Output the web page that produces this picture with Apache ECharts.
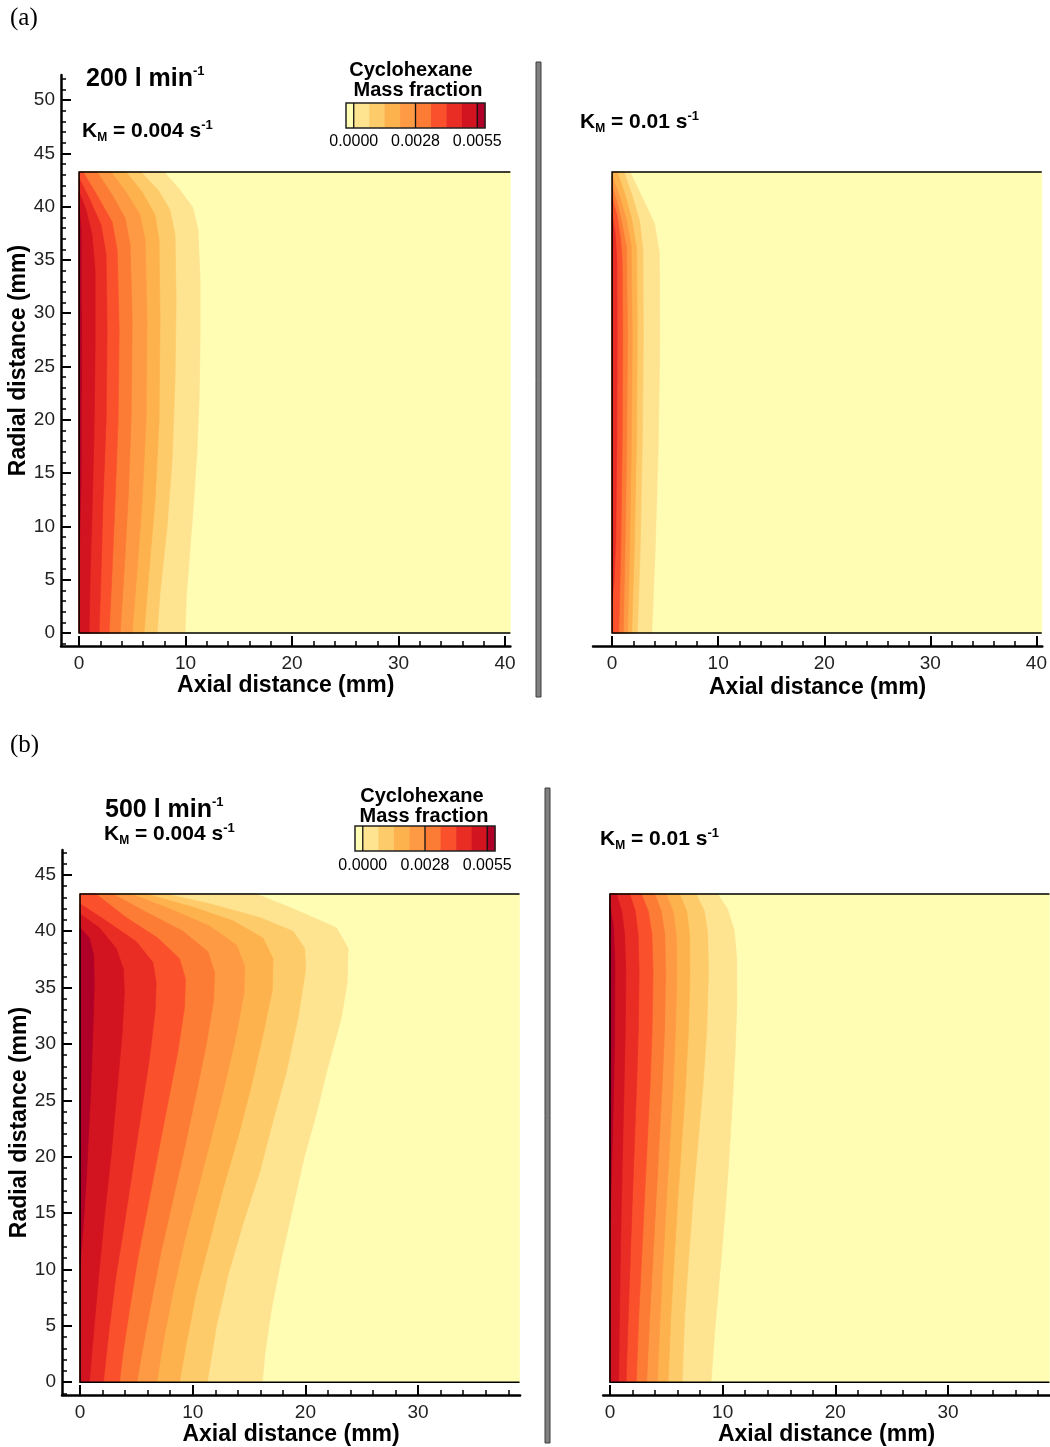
<!DOCTYPE html>
<html>
<head>
<meta charset="utf-8">
<script src="https://cdn.jsdelivr.net/npm/echarts@6/dist/echarts.min.js"></script>
<style>
  html, body { margin: 0; padding: 0; background: #fff; }
  #chart { width: 1050px; height: 1447px; }
</style>
</head>
<body>
<div id="chart"></div>
<script>
// Contour band colours, from the lowest mass-fraction band (0) to the highest (9)
const bandColors = ['#fffdb4', '#fee391', '#fecb6a', '#feb24e', '#fd9a43',
                    '#fc7b35', '#fa512c', '#e92d25', '#d1141f', '#b00027'];
const colorbarLabels = ['0.0000', '0.0028', '0.0055'];

// Axis ticks (mm)
const axialTicks = [0, 10, 20, 30, 40];
const axialMinorTicks = [0, 2, 4, 6, 8, 10, 12, 14, 16, 18, 20, 22, 24, 26, 28, 30, 32, 34, 36, 38, 40];
const radialTicksA = [0, 5, 10, 15, 20, 25, 30, 35, 40, 45, 50];
const radialMinorTicksA = [-1, 0, 1, 2, 3, 4, 5, 6, 7, 8, 9, 10, 11, 12, 13, 14, 15, 16, 17, 18, 19, 20, 21, 22, 23, 24, 25,
  26, 27, 28, 29, 30, 31, 32, 33, 34, 35, 36, 37, 38, 39, 40, 41, 42, 43, 44, 45, 46, 47, 48, 49, 50, 51, 52];
const radialTicksB = [0, 5, 10, 15, 20, 25, 30, 35, 40, 45];
const radialMinorTicksB = [-1, 0, 1, 2, 3, 4, 5, 6, 7, 8, 9, 10, 11, 12, 13, 14, 15, 16, 17, 18, 19, 20, 21, 22, 23, 24, 25,
  26, 27, 28, 29, 30, 31, 32, 33, 34, 35, 36, 37, 38, 39, 40, 41, 42, 43, 44, 45, 46, 47];

// Computational domain extent [axial, radial] in mm
const domainA = [40.5, 43.25];
const domainB = [39.0, 43.3];

// Iso-lines of cyclohexane mass fraction, [axial mm, radial mm].
// Entry i bounds band i+1 (higher values lie on the wall side, axial = 0).

// 200 l/min, K_M = 0.004 1/s
const iso200_k004 = [
  [[7.98,43.25],[9.48,41.56],[10.7,39.87],[11.17,37.8],[11.36,33.1],[11.36,27.5],[11.27,21.86],[11.08,17.17],[10.7,11.54],[10.33,6.85],[10.05,3.1],[9.95,0]],
  [[5.82,43.25],[7.42,41.56],[8.54,39.68],[9.01,37.34],[9.11,31.24],[9.01,23.73],[8.73,16.23],[8.26,9.94],[7.6,3.75],[7.32,0]],
  [[4.41,43.25],[5.92,41.37],[7.14,39.21],[7.51,36.87],[7.6,29.36],[7.51,19.98],[7.14,12.48],[6.57,5.91],[6.1,0]],
  [[3.0,43.25],[4.41,41.37],[5.73,39.21],[6.2,36.87],[6.38,29.36],[6.29,19.98],[5.92,12.48],[5.45,5.91],[4.98,0]],
  [[1.69,43.25],[3.1,41.09],[4.32,38.93],[4.79,36.4],[4.98,29.36],[4.88,19.98],[4.6,12.48],[4.23,5.91],[3.85,0]],
  [[0.38,43.25],[1.78,40.9],[3.1,38.56],[3.57,35.93],[3.76,28.42],[3.66,19.98],[3.38,12.48],[3.1,5.91],[2.82,0]],
  [[0,42.68],[1.03,40.62],[2.07,38.27],[2.54,35.46],[2.63,28.42],[2.54,19.98],[2.25,12.48],[2.07,5.91],[1.88,0]],
  [[0,41.37],[0.66,39.68],[1.22,37.34],[1.5,34.05],[1.5,26.55],[1.41,19.04],[1.22,11.54],[1.03,4.97],[0.94,0]],
  [[0,39.96],[0.19,37.8],[0.23,26.55],[0.19,14.35],[0,6.85]]
];

// 200 l/min, K_M = 0.01 1/s
const iso200_k010 = [
  [[1.69,43.25],[2.9,40.75],[4.0,38.4],[4.45,35.7],[4.5,27.4],[4.35,17.5],[4.05,7.5],[3.74,0]],
  [[1.13,43.25],[1.9,41.0],[2.6,38.6],[2.9,36.0],[2.95,28],[2.85,18],[2.65,8],[2.38,0]],
  [[0.5,43.25],[1.2,41.2],[1.85,38.8],[2.3,36.2],[2.38,28],[2.3,18],[2.1,8],[1.85,0]],
  [[0,42.85],[0.7,41.0],[1.35,38.8],[1.8,36.3],[1.9,28],[1.82,18],[1.65,8],[1.45,0]],
  [[0,41.9],[0.5,40.3],[0.95,38.3],[1.35,36.2],[1.45,28],[1.38,18],[1.22,8],[1.05,0]],
  [[0,40.9],[0.45,39.2],[0.8,37.0],[0.95,35],[1.0,28],[0.95,18],[0.82,8],[0.62,0]],
  [[0,39.2],[0.3,37.5],[0.45,35],[0.48,28],[0.45,18],[0.35,9],[0.2,5],[0,3]]
];

// 500 l/min, K_M = 0.004 1/s
const iso500_k004 = [
  [[15.64,43.3],[18.9,42.0],[22.76,40.3],[23.79,38.48],[23.7,35.42],[23.2,32.37],[21.87,27.48],[20.98,23.82],[19.94,20.15],[18.9,15.57],[17.87,10.99],[16.98,6.41],[16.39,2.44],[16.18,0]],
  [[7.64,43.3],[11.5,42.44],[15.94,41.22],[18.9,40.0],[19.94,38.48],[20.03,36.64],[19.35,32.37],[18.31,27.48],[17.13,23.21],[15.94,18.63],[14.46,14.05],[13.13,9.47],[12.09,4.89],[11.29,0]],
  [[5.87,43.3],[10.01,42.14],[13.57,40.92],[16.24,39.39],[17.13,37.56],[17.07,34.81],[16.24,30.84],[15.2,26.26],[14.01,21.68],[12.68,17.1],[11.5,12.52],[10.31,7.94],[9.42,3.36],[8.83,0]],
  [[4.53,43.3],[7.94,42.0],[11.5,40.46],[13.87,38.78],[14.61,36.95],[14.55,34.5],[13.87,30.84],[12.83,26.26],[11.64,21.68],[10.46,17.1],[9.27,12.52],[8.24,7.94],[7.35,3.36],[6.81,0]],
  [[2.9,43.3],[5.87,41.68],[9.13,40.0],[11.35,38.17],[11.94,36.34],[11.85,33.9],[11.2,29.93],[10.31,25.65],[9.27,20.76],[8.24,16.18],[7.2,11.6],[6.31,7.02],[5.51,2.75],[5.04,0]],
  [[1.42,43.3],[4.09,41.22],[6.9,39.39],[8.83,37.56],[9.36,35.73],[9.27,33.28],[8.68,29.31],[7.79,24.73],[6.9,20.15],[6.01,15.57],[5.13,10.99],[4.39,6.41],[3.79,2.44],[3.5,0]],
  [[0,42.44],[2.31,40.92],[4.98,39.09],[6.46,37.25],[6.76,35.42],[6.67,32.98],[6.16,28.7],[5.42,23.82],[4.68,18.93],[3.94,14.05],[3.2,9.47],[2.61,4.89],[2.07,0]],
  [[0,41.53],[1.72,40.31],[3.2,38.48],[3.85,36.64],[3.94,34.5],[3.73,30.84],[3.26,25.65],[2.76,20.15],[2.16,14.66],[1.66,9.47],[1.19,4.28],[0.83,0]],
  [[0,40.31],[0.83,39.39],[1.21,37.87],[1.27,35.42],[1.13,30.84],[0.89,24.73],[0.59,18.63],[0.3,14.05],[0,10.38]]
];

// 500 l/min, K_M = 0.01 1/s
const iso500_k010 = [
  [[9.56,43.3],[10.44,41.94],[11.03,40.07],[11.24,37.7],[11.26,33.62],[11.09,28.87],[10.82,24.11],[10.53,19.36],[10.15,14.26],[9.71,9.17],[9.26,4.08],[8.97,0]],
  [[7.65,43.3],[8.38,41.77],[8.68,39.73],[8.74,36.34],[8.59,31.24],[8.24,26.15],[7.79,21.05],[7.35,15.96],[6.97,10.87],[6.62,5.77],[6.41,0]],
  [[6.18,43.3],[6.82,41.77],[7.06,39.73],[7.1,36.34],[6.97,31.24],[6.7,26.15],[6.35,21.05],[6.0,15.96],[5.7,10.87],[5.4,5.77],[5.16,0]],
  [[5.0,43.3],[5.6,41.77],[5.88,39.73],[5.94,36.34],[5.82,31.24],[5.6,26.15],[5.3,21.05],[5.0,15.96],[4.72,10.87],[4.45,5.77],[4.2,0]],
  [[3.97,43.3],[4.55,41.77],[4.86,39.73],[4.94,36.34],[4.84,31.24],[4.62,26.15],[4.35,21.05],[4.08,15.96],[3.8,10.87],[3.52,5.77],[3.25,0]],
  [[2.79,43.3],[3.4,41.77],[3.72,39.73],[3.82,36.34],[3.74,31.24],[3.55,26.15],[3.3,21.05],[3.05,15.96],[2.8,10.87],[2.55,5.77],[2.33,0]],
  [[1.76,43.3],[2.25,41.77],[2.5,39.73],[2.59,36.34],[2.52,31.24],[2.36,26.15],[2.17,21.05],[1.98,15.96],[1.8,10.87],[1.62,5.77],[1.43,0]],
  [[0.59,43.3],[1.05,41.77],[1.3,39.73],[1.41,36.34],[1.36,31.24],[1.25,26.15],[1.13,21.05],[1.02,15.96],[0.92,10.87],[0.84,5.77],[0.77,0]],
  [[0,42.3],[0.3,40.5],[0.44,37],[0.4,30],[0.28,24],[0.12,18],[0,14.3]]
];

const FONT = '"Liberation Sans", Arial, Helvetica, sans-serif';
const SERIF = '"Liberation Serif", "Times New Roman", serif';

// ---------- axes ----------
function xMajor(grid, min, max, nameGap) {
  return {
    type: 'value', gridIndex: grid, min: min, max: max, position: 'bottom',
    axisLine: { show: true, onZero: false, lineStyle: { color: '#000', width: 2.5 } },
    axisTick: { show: true, inside: true, length: 10, customValues: axialTicks,
                lineStyle: { color: '#000', width: 2 } },
    axisLabel: { show: true, customValues: axialTicks, margin: 8, fontSize: 19,
                 color: '#222', fontFamily: FONT },
    splitLine: { show: false },
    name: 'Axial distance (mm)', nameLocation: 'middle', nameGap: nameGap,
    nameTextStyle: { fontSize: 23, fontWeight: 'bold', color: '#000', fontFamily: FONT }
  };
}
function xMinor(grid, min, max) {
  return {
    type: 'value', gridIndex: grid, min: min, max: max, position: 'bottom',
    axisLine: { show: false, onZero: false },
    axisTick: { show: true, inside: true, length: 5, customValues: axialMinorTicks,
                lineStyle: { color: '#000', width: 1.5 } },
    axisLabel: { show: false }, splitLine: { show: false }
  };
}
function yMajor(grid, min, max, ticks) {
  return {
    type: 'value', gridIndex: grid, min: min, max: max, position: 'left',
    axisLine: { show: true, onZero: false, lineStyle: { color: '#000', width: 2.5 } },
    axisTick: { show: true, inside: true, length: 10, customValues: ticks,
                lineStyle: { color: '#000', width: 2 } },
    axisLabel: { show: true, customValues: ticks, margin: 6, fontSize: 19,
                 color: '#222', fontFamily: FONT },
    splitLine: { show: false },
    name: 'Radial distance (mm)', nameLocation: 'middle', nameGap: 29,
    nameTextStyle: { fontSize: 23, fontWeight: 'bold', color: '#000', fontFamily: FONT }
  };
}
function yMinor(grid, min, max, ticks) {
  return {
    type: 'value', gridIndex: grid, min: min, max: max, position: 'left',
    axisLine: { show: false, onZero: false },
    axisTick: { show: true, inside: true, length: 5, customValues: ticks,
                lineStyle: { color: '#000', width: 1.5 } },
    axisLabel: { show: false }, splitLine: { show: false }
  };
}
function yHidden(grid, min, max) {
  return { type: 'value', gridIndex: grid, min: min, max: max, show: false,
           axisLine: { onZero: false }, splitLine: { show: false } };
}

// ---------- filled contour series ----------
function contourSeries(xIdx, yIdx, lines, domain) {
  const items = [];
  for (let k = 0; k <= lines.length; k++) items.push([k]);
  items.push([-1]); // domain frame
  return {
    type: 'custom', xAxisIndex: xIdx, yAxisIndex: yIdx, silent: true, animation: false,
    data: items,
    renderItem: function (params, api) {
      const k = api.value(0);
      const xm = domain[0], ym = domain[1];
      if (k === -1) {
        return {
          type: 'polyline',
          shape: { points: [[xm, ym], [0, ym], [0, 0], [xm, 0]].map(function (p) { return api.coord(p); }) },
          style: { stroke: '#000', lineWidth: 1.5, fill: null }
        };
      }
      let pts;
      if (k === 0) {
        pts = [[0, 0], [xm, 0], [xm, ym], [0, ym]];
      } else {
        const line = lines[k - 1];
        pts = line.concat([[0, line[line.length - 1][1]], [0, line[0][1]]]);
      }
      return {
        type: 'polygon',
        shape: { points: pts.map(function (p) { return api.coord(p); }) },
        style: { fill: bandColors[k], stroke: bandColors[k], lineWidth: 0.6 }
      };
    }
  };
}

// ---------- annotations ----------
const richStyles = {
  big: { fontSize: 25, fontWeight: 'bold', fontFamily: FONT, color: '#000', lineHeight: 29 },
  b:   { fontSize: 21, fontWeight: 'bold', fontFamily: FONT, color: '#000', lineHeight: 25 },
  sub: { fontSize: 12, fontWeight: 'bold', fontFamily: FONT, color: '#000', lineHeight: 10, verticalAlign: 'bottom' },
  sup: { fontSize: 13, fontWeight: 'bold', fontFamily: FONT, color: '#000', lineHeight: 13, verticalAlign: 'top' }
};
function richText(x, y, text) {
  return { type: 'text', x: x, y: y, silent: true,
    style: { text: text, rich: richStyles, textAlign: 'left', textVerticalAlign: 'middle' } };
}
function flowText(x, y, flow) { return richText(x, y, '{big|' + flow + ' l min}{sup|-1}'); }
function kmText(x, y, km) { return richText(x, y, '{b|K}{sub|M}{b| = ' + km + ' s}{sup|-1}'); }
function plainText(x, y, text, size, weight, family, align) {
  return { type: 'text', x: x, y: y, silent: true,
    style: { text: text, fontSize: size, fontWeight: weight, fontFamily: family, fill: '#000',
             textAlign: align, textVerticalAlign: 'middle' } };
}

// Colour bar: half-width end boxes, full boxes in between, dividers at labelled levels
function colorbar(x0, y0, w, h, titleX1, titleX2, titleY, labelY) {
  const els = [];
  const u = w / (bandColors.length - 1);
  let x = x0;
  const widths = bandColors.map(function (c, i) { return (i === 0 || i === bandColors.length - 1) ? u / 2 : u; });
  bandColors.forEach(function (c, i) {
    els.push({ type: 'rect', silent: true, shape: { x: x, y: y0, width: widths[i] + 0.5, height: h },
               style: { fill: c } });
    x += widths[i];
  });
  els.push({ type: 'rect', silent: true, shape: { x: x0, y: y0, width: w, height: h },
             style: { fill: null, stroke: '#222', lineWidth: 1.5 } });
  const divX = [x0 + u / 2, x0 + u / 2 + 4 * u, x0 + u / 2 + 8 * u];
  divX.forEach(function (dx, i) {
    els.push({ type: 'line', silent: true, shape: { x1: dx, y1: y0, x2: dx, y2: y0 + h },
               style: { stroke: '#111', lineWidth: 1.3 } });
    els.push(plainText(dx, labelY, colorbarLabels[i], 16, 'normal', FONT, 'center'));
  });
  els.push(plainText(titleX1, titleY, 'Cyclohexane', 20, 'bold', FONT, 'center'));
  els.push(plainText(titleX2, titleY + 20, 'Mass fraction', 20, 'bold', FONT, 'center'));
  return els;
}

function separator(x, y, h) {
  return { type: 'rect', silent: true, shape: { x: x, y: y, width: 5, height: h },
           style: { fill: '#808080', stroke: '#3c3c3c', lineWidth: 1 } };
}

const graphics = [].concat(
  [plainText(10, 18, '(a)', 25, 'normal', SERIF, 'left'),
   plainText(10, 745, '(b)', 25, 'normal', SERIF, 'left'),
   flowText(86, 79, '200'),
   kmText(82, 131, '0.004'),
   kmText(580, 122, '0.01'),
   flowText(105, 810, '500'),
   kmText(104, 834, '0.004'),
   kmText(600, 839, '0.01'),
   separator(536, 62, 635),
   separator(545, 788, 655)],
  colorbar(346, 103, 139, 25, 411, 418, 70, 142),
  colorbar(355, 826, 140, 25, 422, 424, 796, 866)
);

const chart = echarts.init(document.getElementById('chart'), null, { renderer: 'canvas', width: 1050, height: 1447 });

chart.setOption({
  animation: false,
  backgroundColor: '#ffffff',
  grid: [
    { left: 61,    top: 75,  width: 449.4, height: 571 },   // (a) K_M = 0.004
    { left: 593,   top: 75,  width: 450,   height: 571 },   // (a) K_M = 0.01
    { left: 62,    top: 850, width: 458.1, height: 546.8 }, // (b) K_M = 0.004
    { left: 603.2, top: 850, width: 446.9, height: 546.8 }  // (b) K_M = 0.01
  ],
  xAxis: [
    xMajor(0, -1.7, 40.5, 27),  xMinor(0, -1.7, 40.5),
    xMajor(1, -1.8, 40.55, 30), xMinor(1, -1.8, 40.55),
    xMajor(2, -1.6, 39.05, 25), xMinor(2, -1.6, 39.05),
    xMajor(3, -0.6, 39.05, 25), xMinor(3, -0.6, 39.05)
  ],
  yAxis: [
    yMajor(0, -1.22, 52.35, radialTicksA), yMinor(0, -1.22, 52.35, radialMinorTicksA),
    yHidden(1, -1.22, 52.35),
    yMajor(2, -1.15, 47.2, radialTicksB), yMinor(2, -1.15, 47.2, radialMinorTicksB),
    yHidden(3, -1.15, 47.2)
  ],
  series: [
    contourSeries(0, 0, iso200_k004, domainA),
    contourSeries(2, 2, iso200_k010, domainA),
    contourSeries(4, 3, iso500_k004, domainB),
    contourSeries(6, 5, iso500_k010, domainB)
  ],
  graphic: graphics
});
</script>
</body>
</html>
